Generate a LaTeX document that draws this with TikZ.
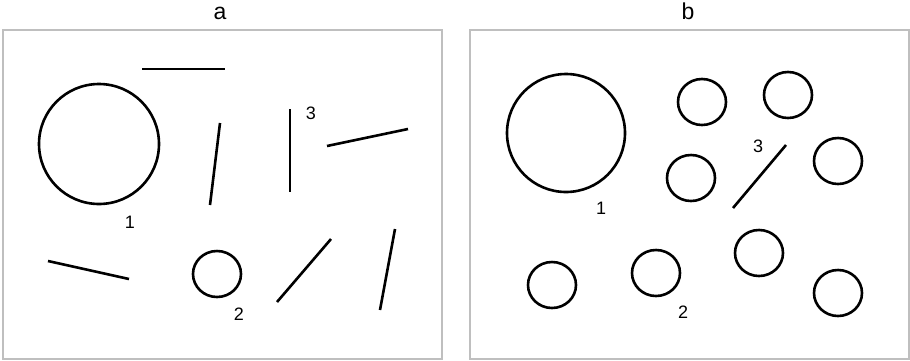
\documentclass[tikz,border=0pt]{standalone}
\usepackage{fontspec}
\setmainfont{Liberation Sans}
\begin{document}
\begin{tikzpicture}[x=1pt,y=-1pt,
  frame/.style={draw=black!25,line width=1.2pt},
  stroke/.style={line width=2.6pt},
  lbl/.style={font=\fontsize{18}{18}\selectfont,inner sep=0pt},
  ttl/.style={font=\fontsize{23}{23}\selectfont,inner sep=0pt,anchor=base}]
\useasboundingbox (0,0) rectangle (910,360);
\fill[white] (0,0) rectangle (910,360);
% panel a
\node[ttl] (ta) at (220,19.5) {a};
\draw[frame] (3,30) rectangle (442,359);
\draw[stroke] (99,144) circle[radius=60];
\draw[stroke] (142,69) -- (225,69);
\draw[stroke] (220,123) -- (210,205);
\draw[stroke] (290,109) -- (290,192);
\draw[stroke] (327,146) -- (408,129);
\draw[stroke] (48,261) -- (129,279);
\draw[stroke] (217,274) ellipse[x radius=24,y radius=23];
\draw[stroke] (277,302) -- (331,239);
\draw[stroke] (395,229) -- (380,310);
\node[lbl] (a1) at (130,222) {1};
\node[lbl] (a2) at (239,314) {2};
\node[lbl] (a3) at (311,113) {3};
% panel b
\node[ttl] (tb) at (688,19.5) {b};
\draw[frame] (470,30) rectangle (909,359);
\draw[stroke] (566,133) circle[radius=59];
\foreach \cx/\cy in {702/102,788/95,691/178,838/161,552/285,656/273,759/253,838/293}
  \draw[stroke] (\cx,\cy) ellipse[x radius=24,y radius=23];
\draw[stroke] (786,145) -- (733,208);
\node[lbl] (b1) at (601,208) {1};
\node[lbl] (b2) at (683,312) {2};
\node[lbl] (b3) at (758,146) {3};
\end{tikzpicture}
\end{document}
